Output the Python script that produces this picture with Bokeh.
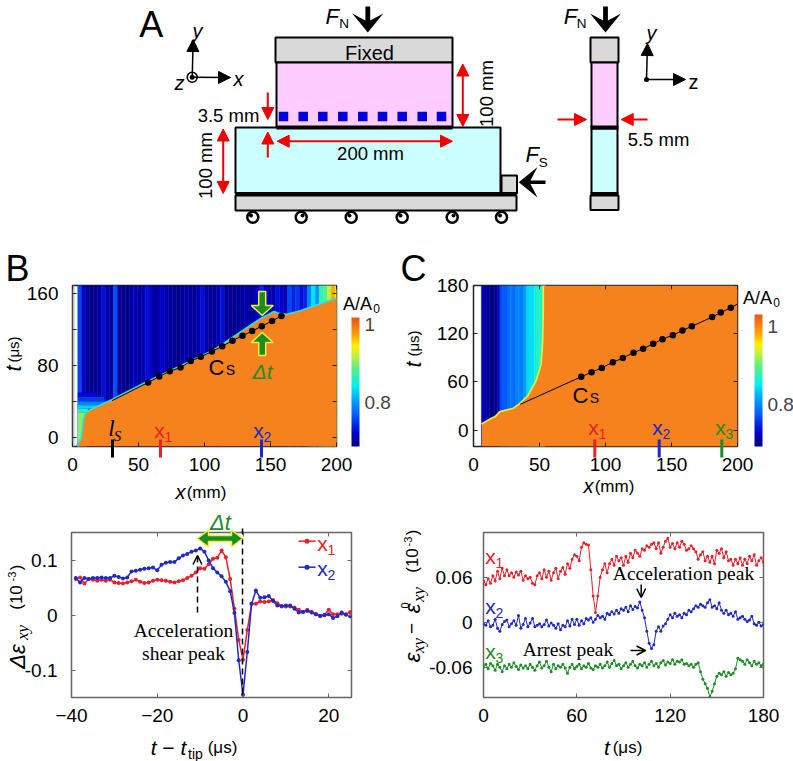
import numpy as np
from bokeh.plotting import figure
from bokeh.layouts import column, row
from bokeh.embed import file_html
from bokeh.resources import INLINE
from bokeh.models import (Label, Arrow, NormalHead, OpenHead, ColorBar, LinearColorMapper,
                          FixedTicker, LinearAxis, PolyAnnotation, Range1d, ColumnDataSource)
from bokeh.transform import transform

# ---------------- data ----------------
# panel B heat map
b_front_x = [3.5, 7.3, 9.1, 11.1, 30, 56.6, 107, 142.4, 152.5, 156, 162.6, 172.7, 199.2, 200]
b_front_t = [-10, -1, 21, 28, 41, 61, 96, 131, 139, 137, 136, 140, 153.5, 154]
b_col_values = [.76, .72, .70, .695, .70, .70, .73, .71, .70, .765, .70, .695, .695, .70, .72, .70, .71,
                .73, .72, .70, .71, .72, .71, .70, .70, .695, .70, .71, .70, .70, .71, .73, .71, .70,
                .70, .71, .73, .70, .70, .695, .70, .70, .71, .70, .71, .72, .74, .72, .71, .71, .73,
                .72, .71, .76, .74, .75, .73, .74, .79, .84, .80, .87, .88, .92, .97, .94]
b_dots_x = [57.3, 65.7, 73.7, 81.8, 89.6, 97.2, 105.6, 113.4, 121.2, 128.8, 136.1, 143.4, 151.2, 158.3]
b_dots_t = [61.2, 67.8, 73.7, 77.7, 85, 89.7, 95.6, 101.4, 107.7, 113.2, 118.3, 123.8, 129.6, 135.2]
b_halo_x0 = [4, 4, 4, 4, 4, 4]
b_halo_x1 = [18, 24, 27, 20, 12, 11]
b_halo_t0 = [45, 40, 36, 32, 28, -10]
b_halo_t1 = [50, 45, 40, 36, 32, 28]
b_halo_v = [.725, .75, .79, .83, .86, .90]
# panel C heat map
c_front_x = [6.3, 9, 13.9, 17, 20.2, 30.3, 35.4, 41.7, 48, 51.8, 53, 53.5, 53.5]
c_front_t = [6.6, 9, 13.6, 16, 21.8, 26, 32, 42, 61, 81, 110, 151, 180]
c_col_values = [.72, .71, .70, .695, .70, .69, .72, .765, .775, .77, .785, .79, .78, .795, .80, .79,
                .81, .835, .845, .84, .86, .87, .865, .88]
c_dots_x = [81.6, 89.4, 97.2, 105.6, 113.1, 121.2, 128.5, 136.1, 143.2, 151, 158.3, 165.4, 180.8, 187.3, 194.9]
c_dots_t = [66.3, 72, 77.4, 84.4, 89.7, 96.3, 101.2, 107.4, 113.2, 118.1, 123.9, 129.2, 140.7, 146.5, 152.3]
# lower left panel
b2_t = list(range(-39, 26))
b2_x1 = [.066, .069, .058, .066, .065, .063, .065, .063, .065, .060, .059, .058, .060, .062, .065, .061,
         .059, .060, .063, .065, .064, .063, .061, .060, .062, .064, .068, .072, .078, .086, .085, .093,
         .103, .105, .118, .106, .066, .012, -.045, -.081, -.027, .021, .021, .025, .024, .025, .028,
         .022, .016, .016, .016, .014, .010, .006, .010, .006, .002, -.002, .001, .010, .002, .002,
         .003, .002, .006]
b2_x2 = [.068, .060, .068, .066, .068, .068, .069, .068, .068, .072, .070, .067, .069, .080, .081, .083,
         .085, .086, .087, .082, .092, .096, .097, .097, .104, .109, .112, .116, .118, .122, .116, .100,
         .086, .078, .071, .061, .044, .004, -.082, -.145, -.067, .021, .045, .032, .033, .035, .026,
         .018, .017, .018, .018, .012, .005, .006, .008, .005, .002, -.001, .000, .002, -.005, -.002,
         .005, .001, -.002]
# lower right panel (one reading every 1.5 us)
c2_x1 = [.055, .050, .058, .052, .062, .055, .068, .058, .072, .062,
         .070, .062, .066, .060, .067, .063, .068, .056, .062, .058,
         .060, .052, .050, .062, .066, .058, .070, .060, .068, .056,
         .066, .072, .058, .068, .073, .064, .078, .072, .084, .090,
         .088, .082, .100, .106, .104, .103, .070, .035, .013, .035,
         .060, .070, .078, .066, .078, .084, .076, .088, .082, .086,
         .076, .088, .080, .092, .086, .096, .092, .088, .098, .096,
         .102, .100, .104, .106, .098, .106, .092, .100, .108, .112,
         .100, .105, .098, .106, .100, .108, .104, .096, .098, .102,
         .098, .094, .084, .090, .094, .082, .088, .080, .088, .078,
         .096, .092, .098, .086, .094, .082, .084, .076, .084, .078,
         .086, .076, .084, .078, .088, .082, .090, .076, .082, .086, .080]
c2_x2 = [-.002, -.004, .002, -.006, -.004, .004, -.008, -.012, -.003, .001,
         .003, -.006, -.002, .002, -.004, .009, -.008, -.003, .005, -.006,
         -.001, .005, -.006, -.004, -.002, -.006, -.003, .003, -.005, -.001,
         -.004, -.008, -.002, -.010, -.004, -.006, .002, -.005, .004, -.003,
         .004, -.004, .002, -.002, .005, .003, .006, .000, .004, .009,
         .006, .008, .004, .012, .010, .014, .011, .016, .012, .018,
         .016, .020, .014, .022, .017, .021, .019, .027, .016, .006,
         -.012, -.028, -.035, -.030, -.012, -.006, -.012, -.005, -.002, .004,
         .010, .006, .012, .008, .010, .006, .012, .010, .016, .014,
         .018, .022, .020, .024, .022, .020, .026, .030, .020, .022,
         .018, .026, .016, .012, .016, .010, .012, .008, .014, .004,
         .006, .008, .004, .001, .003, .008, -.002, -.004, .000, -.005, -.003]
c2_x3 = [-.060, -.056, -.062, -.055, -.058, -.064, -.056, -.060, -.066, -.058,
         -.062, -.056, -.060, -.054, -.059, -.063, -.057, -.061, -.058, -.062,
         -.056, -.060, -.064, -.058, -.053, -.061, -.058, -.052, -.060, -.066,
         -.056, -.062, -.058, -.060, -.056, -.061, -.068, -.060, -.056, -.062,
         -.059, -.056, -.062, -.058, -.060, -.055, -.061, -.063, -.058, -.060,
         -.056, -.061, -.058, -.053, -.060, -.055, -.051, -.058, -.056, -.062,
         -.058, -.054, -.060, -.056, -.052, -.058, -.061, -.056, -.058, -.054,
         -.060, -.056, -.052, -.058, -.055, -.060, -.054, -.051, -.057, -.053,
         -.055, -.050, -.056, -.052, -.053, -.050, -.056, -.055, -.058, -.056,
         -.060, -.056, -.054, -.066, -.076, -.082, -.088, -.100, -.092, -.082,
         -.072, -.068, -.070, -.066, -.072, -.067, -.070, -.068, -.062, -.048,
         -.050, -.052, -.056, -.050, -.054, -.058, -.052, -.056, -.054, -.058, -.056]

# ---------------- styles ----------------
RED, BLUE, GREEN = "#E8202A", "#2028C8", "#1E8C28"
ORANGE = "#F5821C"
SANS, SERIF = "Liberation Sans", "Liberation Serif"
anchors = [(0, 0, 0, 127), (.1, 0, 0, 208), (.25, 0, 96, 255), (.38, 0, 176, 255), (.47, 0, 240, 240),
           (.61, 96, 240, 128), (.7, 192, 240, 64), (.78, 255, 240, 0), (.85, 255, 176, 0), (.92, 248, 128, 16),
           (1, 232, 88, 24)]
_f = np.linspace(0, 1, 128)
_a = np.array(anchors)
PAL = ["#%02x%02x%02x" % tuple(int(np.interp(f, _a[:, 0], _a[:, i])) for i in (1, 2, 3)) for f in _f]

# Full page overlay: schematic and every note that lies across a panel's frame, in page pixels.
A = figure(width=793, height=761, x_range=Range1d(0, 793), y_range=Range1d(761, 0), output_backend="svg",
           toolbar_location=None, min_border=0, outline_line_color=None, background_fill_color=None,
           border_fill_color=None, margin=(-761, 0, 0, 0))
A.axis.visible = False
A.grid.visible = False


def lab(px, py, text, size=19, color="black", font=SANS, style="normal", angle=0, align="center"):
    A.add_layout(Label(x=px, y=py, text=text, text_font_size=f"{size}px", text_color=color,
                       text_font=font, text_font_style=style, angle=angle, angle_units="rad",
                       text_align=align, text_baseline="middle"))


def xsub(px, py, digit, color):
    lab(px - 4, py, "x", 21, color)
    lab(px + 5, py + 6, digit, 14, color)


def arrow(x0, y0, x1, y1, color, width=2, head=12, both=False, dash="solid", open_head=False):
    def mk():
        if open_head:
            return OpenHead(size=head, line_color=color, line_width=width)
        return NormalHead(size=head, fill_color=color, line_color=color, line_width=1)
    A.add_layout(Arrow(x_start=x0, y_start=y0, x_end=x1, y_end=y1,
                       line_color=color, line_width=width, line_dash=dash,
                       end=mk() if head else None, start=mk() if both else None))


def poly(pts, fill, line=None, lw=1):
    A.add_layout(PolyAnnotation(xs=[a for a, _ in pts], ys=[b for _, b in pts],
                                fill_color=fill, fill_alpha=1, line_color=line, line_width=lw, line_alpha=1))


def panel(fig, frame, xr, yr, xticks, yticks, yover, sx, sy, outline, tick=4):
    p = figure(width=fig[2] - fig[0], height=fig[3] - fig[1], x_range=Range1d(*xr), y_range=Range1d(*yr),
               output_backend="svg", toolbar_location=None,
               min_border_left=frame[0] - fig[0], min_border_right=fig[2] - frame[2],
               min_border_top=frame[1] - fig[1], min_border_bottom=fig[3] - frame[3],
               outline_line_color=outline, outline_line_width=1.5, background_fill_color=None,
               border_fill_color=None)
    p.grid.visible = False
    for ax, ticks, over, st in ((p.xaxis[0], xticks, {}, sx), (p.yaxis[0], yticks, yover, sy)):
        ax.ticker = FixedTicker(ticks=ticks)
        ax.major_label_overrides = over
        ax.major_tick_in, ax.major_tick_out = tick, 0
        ax.minor_tick_line_color = None
        ax.axis_line_color = None
        ax.major_tick_line_color = outline
        ax.major_label_standoff = st
        ax.major_label_text_font = SANS
        ax.major_label_text_font_size = "19px"
        ax.major_label_text_color = "black"
    for side, ticks in (("right", yticks), ("above", xticks)):
        m = LinearAxis(ticker=FixedTicker(ticks=ticks), major_tick_in=tick, major_tick_out=0,
                       minor_tick_line_color=None, axis_line_color=None, major_label_text_color=None,
                       major_label_text_font_size="1px", major_tick_line_color=outline)
        p.add_layout(m, side)
    return p


def heat_extras(p, mapper, x, y, h):
    cb = ColorBar(color_mapper=mapper, ticker=FixedTicker(ticks=[0.8, 1.0]),
                  major_label_overrides={0.8: "0.8", 1: "1"}, width=8, height=h, location=(x, y),
                  padding=0, margin=0, major_tick_in=0, major_tick_out=0, bar_line_color=None,
                  background_fill_color=None, major_label_text_font=SANS, major_label_text_font_size="19px",
                  label_standoff=5, major_tick_line_color=None)
    p.add_layout(cb, "center")


# ---------------- panel A: schematic ----------------
GREY, PINK, AQUA = "#D9D9D9", "#FFCCFF", "#CCFFFF"
rect_l = [275, 276, 235, 235, 501, 590, 591, 591, 590]
rect_r = [452, 452, 500, 516, 516.5, 618, 617, 617, 618]
rect_t = [37, 62, 127, 195, 175, 37, 62, 128, 195]
rect_b = [62, 127, 193, 210, 193, 62, 127, 193, 209.5]
rect_c = [GREY, PINK, AQUA, GREY, GREY, GREY, PINK, AQUA, GREY]
A.quad(left=rect_l, right=rect_r, top=rect_t, bottom=rect_b, fill_color=rect_c, line_color="black", line_width=2)
A.segment(x0=[235, 590, 276, 590], x1=[516, 618, 452, 618], y0=[193.5, 193.5, 127, 127], y1=[193.5, 193.5, 127, 127],
          line_color="black", line_width=4)
A.scatter(x=[283, 302.7, 322.3, 342.3, 362.3, 382, 401.7, 421.7, 441], y=[116] * 9, size=9.5, marker="square",
          fill_color="#0000DD", line_color=None)
wheel_x = [252.3, 300.7, 350.7, 401.7, 451.7, 501]
A.scatter(x=wheel_x, y=[216.7] * 6, size=11, marker="circle", fill_color="white", line_color="black", line_width=2.5)
A.scatter(x=[250.5, 302, 349, 400, 453, 499.5], y=[215] * 6, size=4, marker="circle", fill_color="black", line_color=None)
for cx in (367.3, 605):
    poly([(cx - 2.4, 6), (cx - 2.4, 20), (cx - 15.5, 13), (cx, 32), (cx + 15.5, 13), (cx + 2.4, 20), (cx + 2.4, 6)], "black")
poly([(545, 180), (530, 180), (537, 166.5), (518.3, 181.7), (537, 197), (530, 183.4), (545, 183.4)], "black")
lab(486, 93, "100 mm", 18.5, angle=np.pi / 2)
lab(331.7, 16, "F", 22, style="italic")
lab(343.5, 22.5, "N", 13.5)
lab(570, 16, "F", 22, style="italic")
lab(581, 22.5, "N", 13.5)
lab(531.7, 154, "F", 22, style="italic")
lab(542.7, 162, "S", 13.5)
lab(150.7, 24, "A", 36)
lab(369, 52, "Fixed", 20)
lab(228, 115, "3.5 mm", 18.5)
lab(370, 152.7, "200 mm", 18.5)
lab(205, 165, "100 mm", 18.5, angle=np.pi / 2)
lab(658, 138.5, "5.5 mm", 18.5)
arrow(191.7, 76.7, 192.7, 39, "black", 1.5, 12)
arrow(191.7, 76.7, 230, 77, "black", 1.5, 12)
arrow(646, 79, 647, 43, "black", 1.5, 12)
arrow(646, 79, 685, 79, "black", 1.5, 12)
A.scatter(x=[191.7], y=[76.7], size=10, marker="circle", fill_color="white", line_color="black", line_width=1.5)
A.scatter(x=[191.7, 646], y=[76.7, 79], size=5, marker="circle", fill_color="black", line_color=None)
lab(197, 30, "y", 20, style="italic")
lab(238, 78, "x", 20, style="italic")
lab(179, 82, "z", 20, style="italic")
lab(651, 32, "y", 20, style="italic")
lab(693, 81, "z", 20)
arrow(462.3, 126, 462.3, 63.5, "#F00000", 2, 12, both=True)
arrow(267.3, 92, 267.3, 119, "#F00000", 2, 12)
arrow(267.3, 157, 267.3, 131.5, "#F00000", 2, 12)
arrow(452, 140.7, 276.7, 140.7, "#F00000", 2, 12, both=True)
arrow(222.7, 193, 222.7, 128.5, "#F00000", 2, 12, both=True)
arrow(557, 119, 586, 119, "#F00000", 2, 12)
arrow(647, 119, 620.7, 119, "#F00000", 2, 12)

# ---------------- panel B: heat map ----------------
B = panel((0, 0, 400, 255), (72, 35, 336, 198), (0, 200), (-10, 169), [0, 50, 100, 150, 200],
          [0, 40, 80, 120, 160], {40: "", 120: "", 0: "0", 80: "80", 160: "160"}, 11, 14, "#222222")
map_b = LinearColorMapper(palette=PAL, low=.688, high=1.018)
b_edges = [4 + 3 * i for i in range(len(b_col_values) + 1)]
src = ColumnDataSource(dict(l=b_edges[:-1], r=b_edges[1:], v=b_col_values))
B.quad(left="l", right="r", bottom=-10, top=169, source=src, fill_color=transform("v", map_b),
       line_color=transform("v", map_b), line_width=.5)
B.quad(left=[0], right=[1.5], bottom=[-10], top=[169], fill_color="#BBBBBB", line_color=None)
src = ColumnDataSource(dict(l=b_halo_x0, r=b_halo_x1, b=b_halo_t0, t=b_halo_t1, v=b_halo_v))
B.quad(left="l", right="r", bottom="b", top="t", source=src, fill_color=transform("v", map_b), line_color=None)
B.line(b_front_x, b_front_t, line_color="#30E0D0", line_width=3.5)
B.patch(b_front_x + [200, b_front_x[0]], b_front_t + [-10, -10], fill_color=ORANGE, line_color=None)
B.line([30] + b_dots_x, [41] + b_dots_t, line_color="black", line_width=1)
B.scatter(b_dots_x, b_dots_t, size=6.5, marker="circle", fill_color="black", line_color=None)
arrow(112, 439, 112, 457, "black", 3, 0)
arrow(160, 439, 160, 457, RED, 3, 0)
arrow(261, 439, 261, 457, BLUE, 3, 0)
lab(111, 428, "l", 23, style="italic", font=SERIF)
lab(117, 435, "S", 15, style="italic", font=SERIF)
xsub(163, 430, "1", RED)
xsub(262, 430, "2", BLUE)
lab(216, 367, "C", 22)
lab(230, 369, "S", 14)
lab(262, 371, "Δt", 21, GREEN, style="italic")
G2, Y2 = "#1E8C1E", "#EEEE44"
poly([(258.2, 291), (265.2, 291), (265.2, 305), (272.7, 305), (261.7, 315), (250.7, 305), (258.2, 305)], G2, Y2, 1.5)
poly([(258.2, 355), (265.2, 355), (265.2, 342), (272.7, 342), (261.7, 332), (250.7, 342), (258.2, 342)], G2, Y2, 1.5)
heat_extras(B, map_b, 279, 0, 129)
lab(357, 303, "A/A", 18)
lab(376, 308, "0", 12)
lab(17, 268, "B", 36)
lab(13, 368, "t", 22, style="italic", angle=np.pi / 2)
lab(13, 349, "(μs)", 15, angle=np.pi / 2)
lab(180, 491.5, "x", 20, style="italic")
lab(206, 491.5, "(mm)", 17)

# ---------------- panel C: heat map ----------------
C = panel((400, 0, 793, 255), (473, 33, 737, 196), (0, 200), (-20.5, 180), [0, 50, 100, 150, 200],
          [0, 60, 120, 180], {0: "0", 60: "60", 120: "120", 180: "180"}, 11, 5, "#222222")
map_c = LinearColorMapper(palette=PAL, low=.692, high=1.03)
c_edges = [6 + 2 * i for i in range(len(c_col_values) + 1)]
src = ColumnDataSource(dict(l=c_edges[:-1], r=c_edges[1:], v=c_col_values))
C.quad(left="l", right="r", bottom=-20.5, top=180, source=src, fill_color=transform("v", map_c),
       line_color=transform("v", map_c), line_width=.5)
C.line(c_front_x, c_front_t, line_color="#D8F040", line_width=3.5)
C.patch(c_front_x + [200, 200, c_front_x[0]], c_front_t + [180, -20.5, -20.5], fill_color=ORANGE, line_color=None)
C.line([35.4] + c_dots_x + [200], [32] + c_dots_t + [157], line_color="black", line_width=1)
C.scatter(c_dots_x, c_dots_t, size=6.5, marker="circle", fill_color="black", line_color=None)
arrow(594.3, 439, 594.3, 457, RED, 3, 0)
arrow(658.7, 439, 658.7, 457, BLUE, 3, 0)
arrow(721.3, 439, 721.3, 457, GREEN, 3, 0)
xsub(597, 427, "1", RED)
xsub(661, 427, "2", BLUE)
xsub(724, 427, "3", GREEN)
lab(580, 395, "C", 22)
lab(594, 397, "S", 14)
heat_extras(C, map_c, 281, 0, 132)
lab(757, 297, "A/A", 18)
lab(776, 302, "0", 12)
lab(413, 268, "C", 36)
lab(413, 364, "t", 22, style="italic", angle=np.pi / 2)
lab(413, 343, "(μs)", 15, angle=np.pi / 2)
lab(588, 485.5, "x", 20, style="italic")
lab(614, 485.5, "(mm)", 17)

# ---------------- lower left ----------------
D = panel((0, 0, 400, 256), (71, 27, 351, 192), (-40, 25.3), (-.15, .151), [-40, -20, 0, 20],
          [-.1, 0, .1], {-.1: "-0.1", 0: "0", .1: "0.1"}, 11, 14, "#666666")
D.xaxis[0].major_label_overrides = {-40: "-40", -20: "-20", 0: "0", 20: "20"}
D.line(b2_t, b2_x1, line_color=RED, line_width=1.5)
D.scatter(b2_t, b2_x1, size=4, marker="circle", fill_color=RED, line_color=None)
D.line(b2_t, b2_x2, line_color=BLUE, line_width=1.5)
D.scatter(b2_t, b2_x2, size=4, marker="circle", fill_color=BLUE, line_color=None)
arrow(242, 528, 242, 697, "black", 1.5, 0, dash="6 4")
A.line([298, 315], [540.7] * 2, line_color=RED, line_width=1.5)
A.scatter([306.5], [540.7], size=5, marker="circle", fill_color=RED, line_color=None)
A.line([298, 315], [566.7] * 2, line_color=BLUE, line_width=1.5)
A.scatter([306.5], [566.7], size=5, marker="circle", fill_color=BLUE, line_color=None)
xsub(326, 543, "1", RED)
xsub(326, 568, "2", BLUE)
arrow(197, 612, 197, 555, "black", 1.5, 9, dash="6 4", open_head=True)
lab(183, 630, "Acceleration", 19.5, font=SERIF)
lab(183, 653, "shear peak", 19.5, font=SERIF)
poly([(197, 538), (208, 529.5), (208, 535), (231, 535), (231, 529.5), (242, 538), (231, 546.5), (231, 541),
      (208, 541), (208, 546.5)], G2, Y2, 1.5)
lab(220, 522, "Δt", 22, GREEN, style="italic")
lab(168, 747, "t − t", 21, style="italic")
lab(195, 753, "tip", 14)
lab(222, 747, "(μs)", 17)
R90 = np.pi / 2
lab(17, 656, "Δε", 22, style="italic", angle=R90)
lab(22, 632, "xy", 17, style="italic", font=SERIF, angle=R90)
lab(16, 597, "(10", 17, angle=R90)
lab(11, 576, "-3", 11, angle=R90)
lab(16, 567, ")", 17, angle=R90)

# ---------------- lower right ----------------
E = panel((400, 0, 793, 256), (483, 27, 763, 192), (0, 180), (-.1004, .1196), [0, 60, 120, 180],
          [-.06, 0, .06], {-.06: "-0.06", 0: "0", .06: "0.06"}, 11, 11, "#666666")
for series, col in ((c2_x1, RED), (c2_x2, BLUE), (c2_x3, GREEN)):
    ts = [1.5 * i for i in range(len(series))]
    E.line(ts, series, line_color=col, line_width=1)
    E.scatter(ts, series, size=3, marker="circle", fill_color=col, line_color=None)
xsub(494, 556, "1", RED)
xsub(494, 606, "2", BLUE)
xsub(494, 651, "3", GREEN)
lab(683, 573, "Acceleration peak", 19.5, font=SERIF)
lab(567.5, 649, "Arrest peak", 19.5, font=SERIF)
arrow(640.7, 584, 640.7, 597, "black", 1.5, 9, open_head=True)
arrow(630, 650, 645, 650, "black", 1.5, 9, open_head=True)
lab(606.5, 747, "t", 21, style="italic")
lab(627, 747, "(μs)", 17)
lab(412, 657, "ε", 22, style="italic", angle=R90)
lab(418, 645, "xy", 17, style="italic", font=SERIF, angle=R90)
lab(411, 628, "−", 19, angle=R90)
lab(412, 608, "ε", 22, style="italic", angle=R90)
lab(404, 605, "0", 11, angle=R90)
lab(418, 594, "xy", 17, style="italic", font=SERIF, angle=R90)
lab(412, 560, "(10", 17, angle=R90)
lab(407, 541, "-3", 11, angle=R90)
lab(412, 532, ")", 17, angle=R90)

page = column(row(B, C, margin=(250, 0, 0, 0)), row(D, E), A)
open("out.html", "w").write(file_html(page, INLINE))
